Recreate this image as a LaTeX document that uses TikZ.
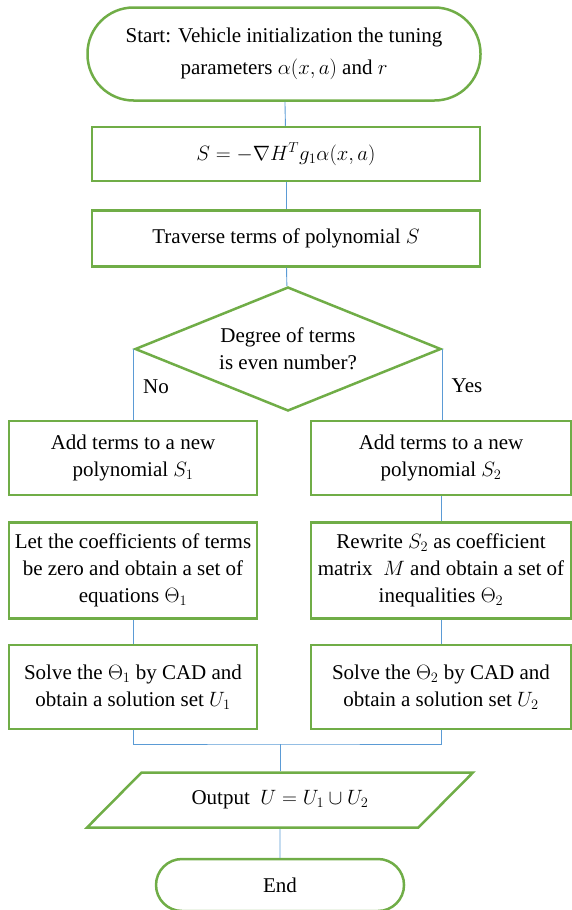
\documentclass[tikz,border=0pt]{standalone}
\usepackage{fontspec}
\setmainfont{Liberation Serif}
\usetikzlibrary{positioning,shapes.geometric}
\definecolor{boxgreen}{HTML}{70AD47}
\definecolor{lineblue}{HTML}{5B9BD5}

\begin{document}
\begin{tikzpicture}[x=1pt,y=1pt,font=\fontsize{21}{27}\selectfont,
    box/.style={rectangle,draw=boxgreen,line width=2.5pt,align=center,inner sep=2pt},
    terminal/.style={box,rounded corners=#1},
    decision/.style={diamond,draw=boxgreen,line width=2.5pt,aspect=2.47,
        minimum width=306pt,minimum height=124pt,inner sep=0pt,align=center},
    io/.style={trapezium,trapezium left angle=35,trapezium right angle=145,
        trapezium stretches=true,draw=boxgreen,line width=2.5pt,
        minimum width=386pt,minimum height=55pt},
    link/.style={draw=lineblue,line width=0.9pt}]
\useasboundingbox (0,0) rectangle (572,-910);

            \node[terminal=46pt,minimum width=393pt,minimum height=93pt](start) at (284,-54)
                {Start: Vehicle initialization the tuning\\[5pt] parameters $\alpha(x,a)$ and $r$};
            \node[box,minimum width=388pt,minimum height=54pt](s)[below =24pt of start,xshift=2pt]
                {$S=-\nabla H^{T}g_1\alpha(x,a)$};
            \node[box,minimum width=388pt,minimum height=56pt](trav)[below =27pt of s]
                {Traverse terms of polynomial $S$};
            \node[decision](deg)[below =18pt of trav,xshift=2pt]{Degree of terms\\is even number?};

            \node[box,minimum width=248pt,minimum height=74pt](add1) at (133,-458)
                {Add terms to a new\\polynomial $S_1$};
            \node[box,minimum width=248pt,minimum height=96pt](let1)[below =25pt of add1]
                {Let the coefficients of terms\\be zero and obtain a set of\\equations $\Theta_1$};
            \node[box,minimum width=248pt,minimum height=84pt](sol1)[below =24pt of let1]
                {Solve the $\Theta_1$ by CAD and\\obtain a solution set $U_1$};

            \node[box,minimum width=260pt,minimum height=74pt](add2) at (441,-458)
                {Add terms to a new\\polynomial $S_2$};
            \node[box,minimum width=260pt,minimum height=96pt](rew2)[below =25pt of add2]
                {Rewrite $S_2$ as coefficient\\matrix\ \ $M$ and obtain a set of\\inequalities $\Theta_2$};
            \node[box,minimum width=260pt,minimum height=84pt](sol2)[below =24pt of rew2]
                {Solve the $\Theta_2$ by CAD and\\obtain a solution set $U_2$};

            \node[io](out) at (280,-800){Output\ \ $U=U_1\cup U_2$};
            \node[terminal=26pt,minimum width=248pt,minimum height=52pt](end)[below =29pt of out]{End};

            \node(no) at (156,-387){No};
            \node(yes) at (467,-386){Yes};
            \coordinate(m) at (280,-744);

            \path[link](start) edge (s)
                    (s) edge (trav)
                    (trav) edge (deg)
                    (deg.west) edge (deg.west |- add1.north)
                    (deg.east) edge (deg.east |- add2.north)
                    (add2) edge (rew2)
                    (let1) edge (sol1)
                    (rew2) edge (sol2)
                    (m) edge (out)
                    (out) edge (end);
            \draw[link](sol1.south) |- (m) -| (sol2.south);
        \end{tikzpicture}
\end{document}
